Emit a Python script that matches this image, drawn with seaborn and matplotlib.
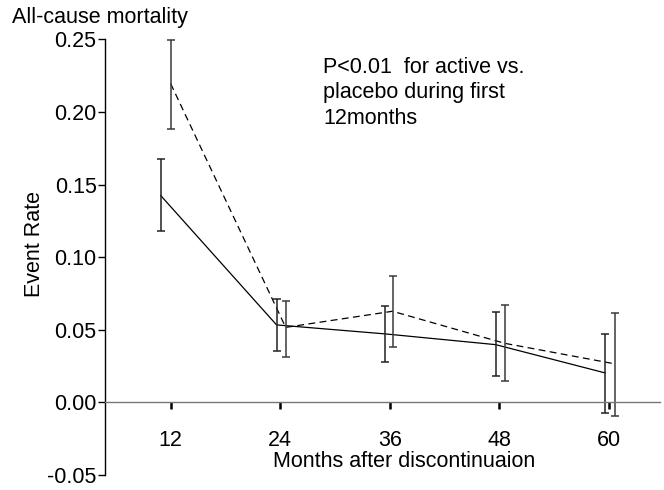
#!/usr/bin/env python3
# -*- coding: utf-8 -*-
"""All-cause mortality event rate after discontinuation, active vs placebo."""

import numpy as np
import seaborn as sns
import pandas as pd
import matplotlib
matplotlib.use('Agg')
import matplotlib.pyplot as plt

# %% Data

# tick months
lst_months = [12, 24, 36, 48, 60]

# solid line (active), slightly dodged to the left of each tick
lst_x_act = [10.9, 23.6, 35.5, 47.6, 59.6]
lst_rate_act = [0.1426, 0.0534, 0.0472, 0.0398, 0.0203]
lst_lo_act = [0.1184, 0.0354, 0.0281, 0.0179, -0.0073]
lst_hi_act = [0.1674, 0.0713, 0.0667, 0.0621, 0.0474]

# dashed line (placebo), dodged to the right
lst_x_plc = [12.0, 24.6, 36.3, 48.6, 60.7]
lst_rate_plc = [0.2196, 0.0517, 0.0628, 0.0407, 0.0265]
lst_lo_plc = [0.1883, 0.0310, 0.0384, 0.0148, -0.0092]
lst_hi_plc = [0.2494, 0.0701, 0.0874, 0.0672, 0.0614]

lst_yticks = [-0.05, 0.00, 0.05, 0.10, 0.15, 0.20, 0.25]

# %% Plot

sns.set_style('white')
plt.rcParams['font.family'] = ['Liberation Sans', 'DejaVu Sans']
plt.rcParams['text.color'] = 'black'
plt.rcParams['axes.labelcolor'] = 'black'
plt.rcParams['xtick.color'] = 'black'
plt.rcParams['ytick.color'] = 'black'
var_fs = 15.5

df_act = pd.DataFrame({'x': lst_x_act, 'y': lst_rate_act})
df_plc = pd.DataFrame({'x': lst_x_plc, 'y': lst_rate_plc})

fig = plt.figure(figsize=(6.64, 4.9), dpi=100)
ax = fig.add_axes([0.158, 0.0306, 0.836, 0.8888])

sns.lineplot(data=df_act, x='x', y='y', ax=ax, color='black', linewidth=0.9,
             sort=False)
sns.lineplot(data=df_plc, x='x', y='y', ax=ax, color='black', linewidth=0.9,
             linestyle=(0, (5.5, 3.5)), sort=False)

# error bars
ary_err_act = np.array([np.array(lst_rate_act) - np.array(lst_lo_act),
                        np.array(lst_hi_act) - np.array(lst_rate_act)])
ary_err_plc = np.array([np.array(lst_rate_plc) - np.array(lst_lo_plc),
                        np.array(lst_hi_plc) - np.array(lst_rate_plc)])
ax.errorbar(lst_x_act, lst_rate_act, yerr=ary_err_act, fmt='none',
            ecolor='#222222', elinewidth=1.1, capsize=2.6, capthick=1.1)
ax.errorbar(lst_x_plc, lst_rate_plc, yerr=ary_err_plc, fmt='none',
            ecolor='#3a3a3a', elinewidth=1.1, capsize=2.6, capthick=1.1)

ax.set_xlim(4.8, 65.6)
ax.set_ylim(-0.05, 0.25)

# spines: left axis plus a grey zero line carrying the x ticks
for str_side in ['top', 'right']:
    ax.spines[str_side].set_visible(False)
ax.spines['left'].set_color('black')
ax.spines['left'].set_linewidth(1.0)
ax.spines['bottom'].set_position(('data', 0))
ax.spines['bottom'].set_color('#777777')
ax.spines['bottom'].set_linewidth(1.0)

ax.set_xticks(lst_months)
ax.set_xticklabels([str(m) for m in lst_months])
ax.set_yticks(lst_yticks)
ax.set_yticklabels(['%.2f' % v for v in lst_yticks])
ax.tick_params(axis='x', bottom=True, direction='out', length=5, width=1.8,
               color='black', pad=14.5, labelsize=var_fs)
ax.tick_params(axis='y', left=True, direction='out', length=5, width=1.0,
               color='black', pad=1, labelsize=var_fs)

ax.set_xlabel('Months after discontinuaion', fontsize=var_fs)
ax.xaxis.set_label_coords(0.539, 0.054)
ax.set_ylabel('Event Rate', fontsize=var_fs)
ax.yaxis.set_label_coords(-0.108, 0.53)

fig.text(0.018, 0.965, 'All-cause mortality', fontsize=var_fs, va='center',
         ha='left')
ax.text(0.393, 0.96, 'P<0.01  for active vs.\nplacebo during first\n12months',
        transform=ax.transAxes, fontsize=var_fs, va='top', ha='left',
        linespacing=1.28)

fig.savefig('out.png', dpi=100)
